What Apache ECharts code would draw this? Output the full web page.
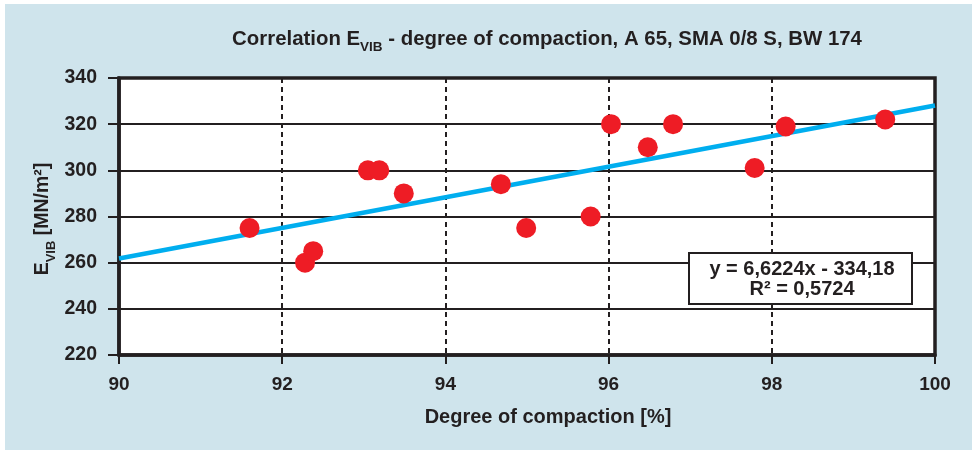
<!DOCTYPE html>
<html><head><meta charset="utf-8">
<script src="https://cdn.jsdelivr.net/npm/echarts@6/dist/echarts.min.js"></script>
<style>html,body{margin:0;padding:0;background:#fff}#c{width:978px;height:450px}</style>
</head><body><div id="c"></div>
<script>
const compaction = [91.6, 92.28, 92.38, 93.05, 93.19, 93.49, 94.68, 94.99, 95.78, 96.03, 96.48, 96.79, 97.79, 98.17, 99.39];
const evib = [275, 260, 265, 300, 300, 290, 294, 275, 280, 320, 310, 320, 301, 319, 322];
const trendX = [90, 100];
const trendY = [261.8, 328.1];
const xTicks = [90, 92, 94, 96, 98, 100];
const yTicks = [220, 240, 260, 280, 300, 320, 340];
const equation = ['y = 6,6224x - 334,18', 'R² = 0,5724'];

const chart = echarts.init(document.getElementById('c'));
const FONT = 'Liberation Sans, Arial, sans-serif';
const INK = '#231f20';
chart.setOption({
  backgroundColor: '#ffffff',
  animation: false,
  graphic: [
    {type: 'rect', z: -10, silent: true, shape: {x: 5, y: 4, width: 967, height: 446}, style: {fill: '#cfe4ec'}},
    {type: 'text', x: 547, y: 37, z: 10, style: {
      text: '{b|Correlation E}{s|VIB}{b| - degree of compaction, A 65, SMA 0/8 S, BW 174}',
      align: 'center', verticalAlign: 'middle',
      rich: {
        b: {fontFamily: FONT, fontWeight: 'bold', fontSize: 20.4, fill: INK, lineHeight: 24, verticalAlign: 'bottom'},
        s: {fontFamily: FONT, fontWeight: 'bold', fontSize: 13.5, fill: INK, lineHeight: 16, verticalAlign: 'bottom', padding: [0, 0, -5, 0]}
      }
    }},
    {type: 'text', x: 41, y: 219, rotation: Math.PI / 2, z: 10, style: {
      text: '{b|E}{s|VIB}{b| [MN/m²]}', align: 'center', verticalAlign: 'middle',
      rich: {
        b: {fontFamily: FONT, fontWeight: 'bold', fontSize: 19.5, fill: INK, lineHeight: 24, verticalAlign: 'bottom'},
        s: {fontFamily: FONT, fontWeight: 'bold', fontSize: 13, fill: INK, lineHeight: 16, verticalAlign: 'bottom', padding: [0, 0, -5, 0]}
      }
    }},
    {type: 'text', x: 548, y: 417, z: 10, style: {text: 'Degree of compaction [%]', align: 'center', verticalAlign: 'middle',
      fontFamily: FONT, fontWeight: 'bold', fontSize: 20, fill: INK}},
    {type: 'rect', z: 100, shape: {x: 689, y: 253, width: 223, height: 51}, style: {fill: '#fff', stroke: INK, lineWidth: 2}},
    {type: 'text', z: 101, x: 802, y: 279, style: {text: equation.join('\n'), align: 'center', verticalAlign: 'middle',
      fontFamily: FONT, fontWeight: 'bold', fontSize: 20, lineHeight: 20, fill: INK}}
  ],
  grid: {left: 119, right: 43, top: 78, bottom: 95, show: true, backgroundColor: '#fff', borderColor: INK, borderWidth: 3.5},
  xAxis: {
    type: 'value', min: 90, max: 100, interval: 2,
    axisLine: {show: true, onZero: false, lineStyle: {color: INK, width: 3.5}},
    axisTick: {show: true, length: 9, lineStyle: {color: INK, width: 2}},
    axisLabel: {margin: 20, fontFamily: 'Liberation Sans Narrow, Liberation Sans, Arial', fontWeight: 'bold', fontSize: 19, color: INK,
      formatter: v => xTicks.includes(v) ? String(v) : ''},
    splitLine: {show: true, lineStyle: {color: INK, width: 2, type: [5, 4]}}
  },
  yAxis: {
    type: 'value', min: 220, max: 340, interval: 20,
    axisLine: {show: true, onZero: false, lineStyle: {color: INK, width: 3.5}},
    axisTick: {show: true, length: 11, lineStyle: {color: INK, width: 2}},
    axisLabel: {margin: 22, fontFamily: FONT, fontWeight: 'bold', fontSize: 19.5, color: INK,
      formatter: v => yTicks.includes(v) ? String(v) : ''},
    splitLine: {show: true, lineStyle: {color: INK, width: 2}}
  },
  series: [
    {type: 'line', data: trendX.map((x, i) => [x, trendY[i]]), symbol: 'none', z: 3,
      lineStyle: {color: '#00aeef', width: 4.5}},
    {type: 'scatter', data: compaction.map((x, i) => [x, evib[i]]), symbol: 'circle', symbolSize: 20, z: 4,
      itemStyle: {color: '#ee1c25', opacity: 1}}
  ]
});
</script></body></html>
